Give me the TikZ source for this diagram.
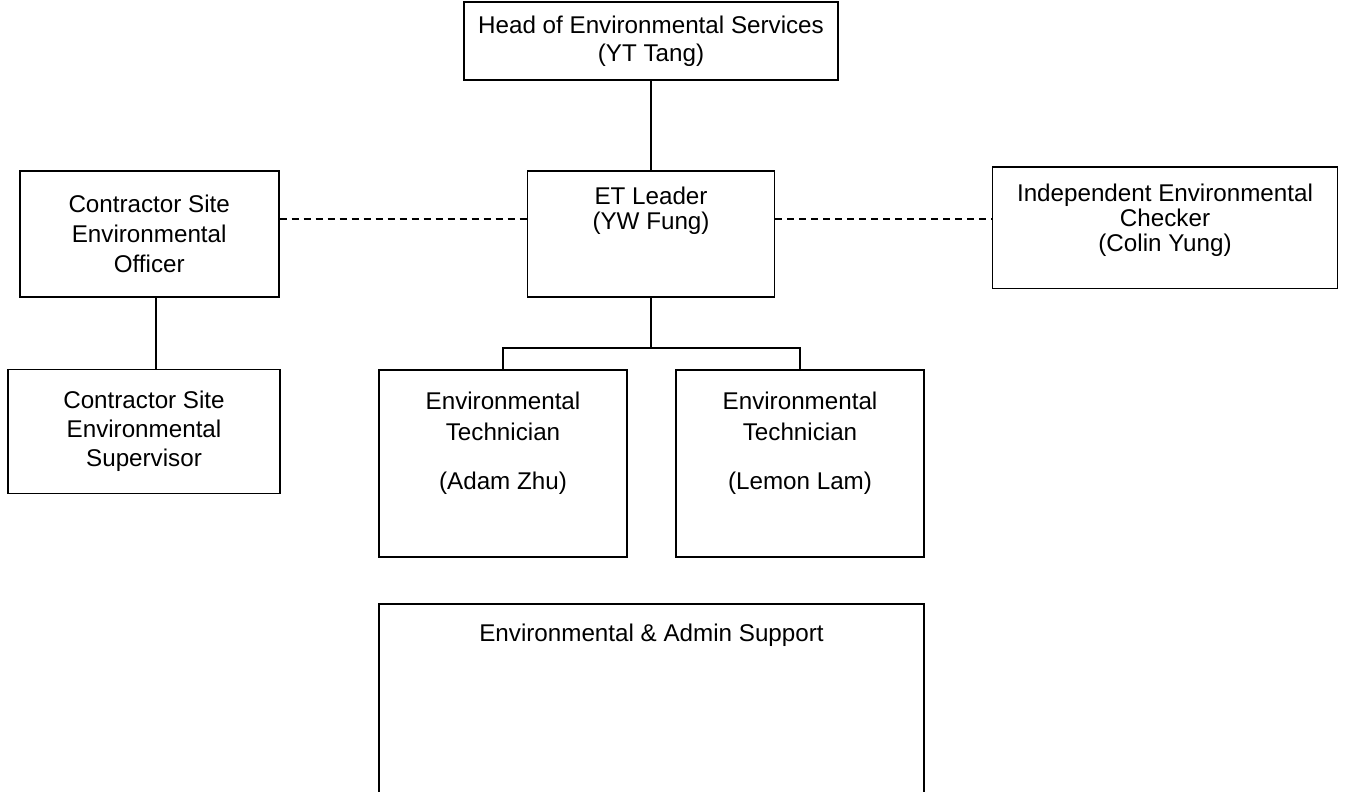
\documentclass[tikz,border=0pt]{standalone}
\usepackage{fontspec}
\setmainfont{Liberation Sans}
\usepackage{tikz}
\usetikzlibrary{positioning}

\begin{document}
\begin{tikzpicture}[
    x=0.5pt, y=-0.5pt,
    box/.style={draw, line width=0.9pt, align=center, inner sep=0pt},
    fnt/.style={font=\fontsize{12.1}{#1}\selectfont},
    toptext/.style={anchor=north, align=center, inner sep=0pt, yshift=-#1},
    link/.style={line width=0.9pt},
    dashlink/.style={line width=0.9pt, dash pattern=on 3.5pt off 2.5pt}
]
\useasboundingbox (0,0) rectangle (1352,791);

%  Top of the chart
\node[box, fnt=14pt, minimum width=187pt, minimum height=39pt] (head) at (651,41)
    {Head of Environmental Services\\(YT Tang)};
\node[box, minimum width=123.5pt, minimum height=63pt, below=44.5pt of head,
    label={[toptext=8.5pt, fnt=12.5pt]north:ET Leader\\(YW Fung)}] (leader) {};

%  Side boxes
\node[box, fnt=15pt, minimum width=129.5pt, minimum height=63pt, left=123.5pt of leader] (officer)
    {Contractor Site\\Environmental\\Officer};
\node[box, fnt=14.5pt, minimum width=136pt, minimum height=62pt] (super) at (144,431.5)
    {Contractor Site\\Environmental\\Supervisor};
\node[box, minimum width=172.5pt, minimum height=60.75pt,
    label={[toptext=9pt, fnt=12.3pt]north:Independent Environmental\\Checker\\(Colin Yung)}] (checker) at (1165,227.7) {};

%  Technicians
\node[box, minimum width=124pt, minimum height=93.5pt,
    label={[toptext=11pt, fnt=15.5pt]north:Environmental\\Technician\\[9pt](Adam Zhu)}] (tech1) at (503,463.5) {};
\node[box, minimum width=124pt, minimum height=93.5pt,
    label={[toptext=11pt, fnt=15.5pt]north:Environmental\\Technician\\[9pt](Lemon Lam)}] (tech2) at (800,463.5) {};

%  Support
\node[box, minimum width=272.5pt, minimum height=100pt,
    label={[toptext=10pt, fnt=14pt]north:Environmental \& Admin Support}] (admin) at (651.5,704) {};

%  Lines
\draw[link] (head.south) -- (leader.north);
\draw[link] (leader.south) -- ++(0,-25pt) coordinate (fork);
\draw[link] (tech1.north) |- (fork) -| (tech2.north);
\coordinate (drop) at ([xshift=3.25pt]officer.south);
\draw[link] (drop) -- (drop |- super.north);

\coordinate (dashL) at ([yshift=7.5pt]officer.east);
\coordinate (dashR) at ([yshift=7.5pt]leader.east);
\draw[dashlink] (dashL) -- (dashL -| leader.west);
\draw[dashlink] (dashR) -- (dashR -| checker.west);

\end{tikzpicture}
\end{document}
